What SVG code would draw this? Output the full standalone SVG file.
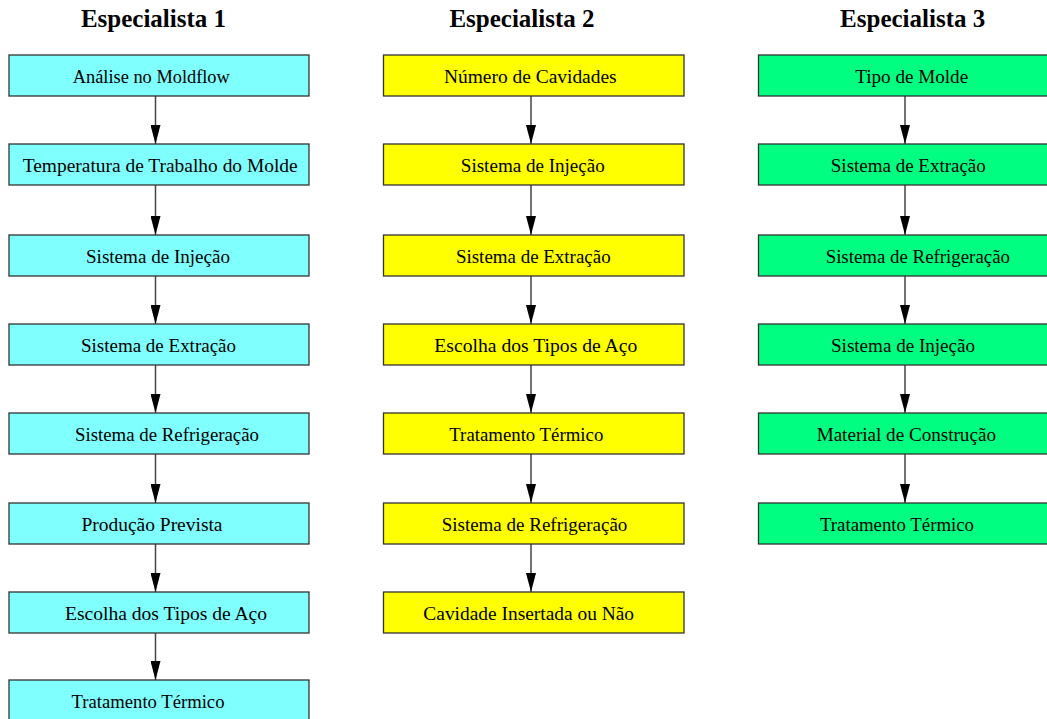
<svg xmlns="http://www.w3.org/2000/svg" width="1047" height="719" viewBox="0 0 1047 719">
<style>
.title{font-family:"Liberation Serif","Times New Roman",serif;font-weight:bold;font-size:25px;fill:#000;text-anchor:middle}
.lbl{font-family:"Liberation Serif","Times New Roman",serif;font-size:18px;fill:#000;text-anchor:middle}
.box{stroke:#333;stroke-width:1.3}
.c1{fill:#80FFFF}
.c2{fill:#FFFF00}
.c3{fill:#00FF80}
.edge{stroke:#444;stroke-width:1.5;fill:none;marker-end:url(#arr)}
</style>
<defs>
<marker id="arr" viewBox="0 0 19 10" refX="19" refY="5" markerWidth="19" markerHeight="10" markerUnits="userSpaceOnUse" orient="auto">
<path d="M0,0 L19,5 L0,10 z" fill="#000"/>
</marker>
</defs>
<rect width="1047" height="719" fill="#fff"/>
<g id="titles">
<text class="title" x="153.5" y="27">Especialista 1</text>
<text class="title" x="522" y="27">Especialista 2</text>
<text class="title" x="912.7" y="27">Especialista 3</text>
</g>
<g id="connectors">
<line class="edge" x1="155.5" y1="96" x2="155.5" y2="144"/>
<line class="edge" x1="155.5" y1="185" x2="155.5" y2="235"/>
<line class="edge" x1="155.5" y1="276" x2="155.5" y2="324"/>
<line class="edge" x1="155.5" y1="365" x2="155.5" y2="413"/>
<line class="edge" x1="155.5" y1="454" x2="155.5" y2="503"/>
<line class="edge" x1="155.5" y1="544" x2="155.5" y2="592"/>
<line class="edge" x1="155.5" y1="633" x2="155.5" y2="680"/>
<line class="edge" x1="531" y1="96" x2="531" y2="144"/>
<line class="edge" x1="531" y1="185" x2="531" y2="235"/>
<line class="edge" x1="531" y1="276" x2="531" y2="324"/>
<line class="edge" x1="531" y1="365" x2="531" y2="413"/>
<line class="edge" x1="531" y1="454" x2="531" y2="503"/>
<line class="edge" x1="531" y1="544" x2="531" y2="592"/>
<line class="edge" x1="905" y1="96" x2="905" y2="144"/>
<line class="edge" x1="905" y1="185" x2="905" y2="235"/>
<line class="edge" x1="905" y1="276" x2="905" y2="324"/>
<line class="edge" x1="905" y1="365" x2="905" y2="413"/>
<line class="edge" x1="905" y1="454" x2="905" y2="503"/>
</g>
<g id="e1n1"><rect class="box c1" x="9" y="55" width="300" height="41"/><text class="lbl" x="151.3" y="83" textLength="157" lengthAdjust="spacingAndGlyphs">Análise no Moldflow</text></g>
<g id="e1n2"><rect class="box c1" x="9" y="144" width="300" height="41"/><text class="lbl" x="160.2" y="172" textLength="275" lengthAdjust="spacingAndGlyphs">Temperatura de Trabalho do Molde</text></g>
<g id="e1n3"><rect class="box c1" x="9" y="235" width="300" height="41"/><text class="lbl" x="158" y="263" textLength="144" lengthAdjust="spacingAndGlyphs">Sistema de Injeção</text></g>
<g id="e1n4"><rect class="box c1" x="9" y="324" width="300" height="41"/><text class="lbl" x="158.5" y="352" textLength="155" lengthAdjust="spacingAndGlyphs">Sistema de Extração</text></g>
<g id="e1n5"><rect class="box c1" x="9" y="413" width="300" height="41"/><text class="lbl" x="167" y="441" textLength="184" lengthAdjust="spacingAndGlyphs">Sistema de Refrigeração</text></g>
<g id="e1n6"><rect class="box c1" x="9" y="503" width="300" height="41"/><text class="lbl" x="152" y="531" textLength="141" lengthAdjust="spacingAndGlyphs">Produção Prevista</text></g>
<g id="e1n7"><rect class="box c1" x="9" y="592" width="300" height="41"/><text class="lbl" x="166" y="620" textLength="202" lengthAdjust="spacingAndGlyphs">Escolha dos Tipos de Aço</text></g>
<g id="e1n8"><rect class="box c1" x="9" y="680" width="300" height="41"/><text class="lbl" x="148" y="708" textLength="153" lengthAdjust="spacingAndGlyphs">Tratamento Térmico</text></g>
<g id="e2n1"><rect class="box c2" x="383.5" y="55" width="300.5" height="41"/><text class="lbl" x="530.3" y="83" textLength="172.7" lengthAdjust="spacingAndGlyphs">Número de Cavidades</text></g>
<g id="e2n2"><rect class="box c2" x="383.5" y="144" width="300.5" height="41"/><text class="lbl" x="532.8" y="172" textLength="144" lengthAdjust="spacingAndGlyphs">Sistema de Injeção</text></g>
<g id="e2n3"><rect class="box c2" x="383.5" y="235" width="300.5" height="41"/><text class="lbl" x="533.3" y="263" textLength="154.7" lengthAdjust="spacingAndGlyphs">Sistema de Extração</text></g>
<g id="e2n4"><rect class="box c2" x="383.5" y="324" width="300.5" height="41"/><text class="lbl" x="535.8" y="352" textLength="203" lengthAdjust="spacingAndGlyphs">Escolha dos Tipos de Aço</text></g>
<g id="e2n5"><rect class="box c2" x="383.5" y="413" width="300.5" height="41"/><text class="lbl" x="526.3" y="441" textLength="154" lengthAdjust="spacingAndGlyphs">Tratamento Térmico</text></g>
<g id="e2n6"><rect class="box c2" x="383.5" y="503" width="300.5" height="41"/><text class="lbl" x="534.5" y="531" textLength="185.7" lengthAdjust="spacingAndGlyphs">Sistema de Refrigeração</text></g>
<g id="e2n7"><rect class="box c2" x="383.5" y="592" width="300.5" height="41"/><text class="lbl" x="528.7" y="620" textLength="210.7" lengthAdjust="spacingAndGlyphs">Cavidade Insertada ou Não</text></g>
<g id="e3n1"><rect class="box c3" x="758.5" y="55" width="300" height="41"/><text class="lbl" x="911.7" y="83" textLength="113" lengthAdjust="spacingAndGlyphs">Tipo de Molde</text></g>
<g id="e3n2"><rect class="box c3" x="758.5" y="144" width="300" height="41"/><text class="lbl" x="908.3" y="172" textLength="155" lengthAdjust="spacingAndGlyphs">Sistema de Extração</text></g>
<g id="e3n3"><rect class="box c3" x="758.5" y="235" width="300" height="41"/><text class="lbl" x="917.8" y="263" textLength="184.3" lengthAdjust="spacingAndGlyphs">Sistema de Refrigeração</text></g>
<g id="e3n4"><rect class="box c3" x="758.5" y="324" width="300" height="41"/><text class="lbl" x="903" y="352" textLength="144" lengthAdjust="spacingAndGlyphs">Sistema de Injeção</text></g>
<g id="e3n5"><rect class="box c3" x="758.5" y="413" width="300" height="41"/><text class="lbl" x="906.3" y="441" textLength="179.3" lengthAdjust="spacingAndGlyphs">Material de Construção</text></g>
<g id="e3n6"><rect class="box c3" x="758.5" y="503" width="300" height="41"/><text class="lbl" x="897" y="531" textLength="154" lengthAdjust="spacingAndGlyphs">Tratamento Térmico</text></g>
</svg>
